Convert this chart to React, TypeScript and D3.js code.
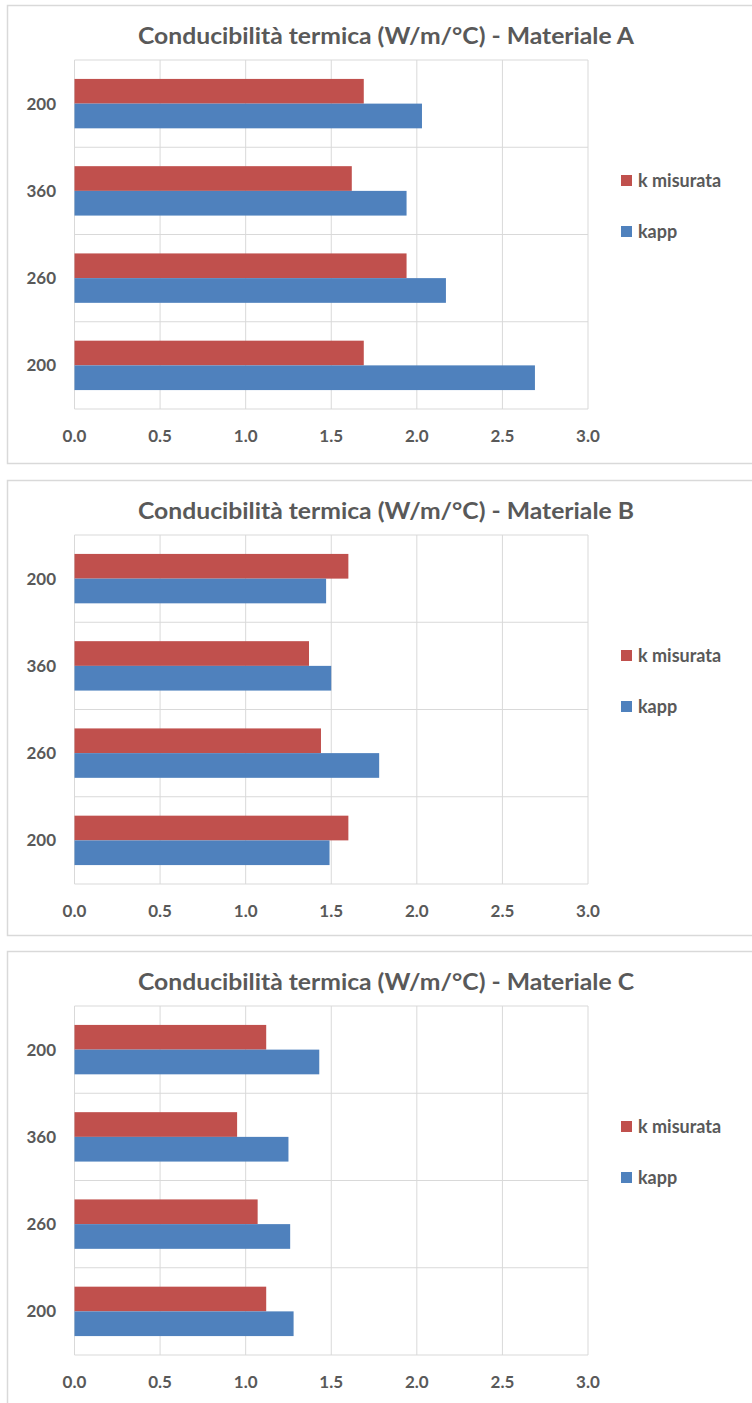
import * as d3 from 'd3'

// categorie dall'alto verso il basso
const categories = ['200', '360', '260', '200']
const seriesNames = ['k misurata', 'kapp']
const seriesColors = ['#c0504d', '#4f81bd']
const xTicks = [0, 0.5, 1, 1.5, 2, 2.5, 3]

const kMisurataA = [1.69, 1.62, 1.94, 1.69]
const kappA = [2.03, 1.94, 2.17, 2.69]
const kMisurataB = [1.60, 1.37, 1.44, 1.60]
const kappB = [1.47, 1.50, 1.78, 1.49]
const kMisurataC = [1.12, 0.95, 1.07, 1.12]
const kappC = [1.43, 1.25, 1.26, 1.28]

const panelTitles = [
  'Conducibilità termica (W/m/°C) - Materiale A',
  'Conducibilità termica (W/m/°C) - Materiale B',
  'Conducibilità termica (W/m/°C) - Materiale C',
]
const panelTops = [5, 480, 951]
const panelHeights = [458, 455, 470]

const font = 'Lato, "Open Sans", sans-serif'
const textColor = '#595959'
const gridColor = '#d9d9d9'

interface PanelProps {
  top: number
  height: number
  title: string
  values: number[][]
}

function Panel({ top, height, title, values }: PanelProps) {
  const plotLeft = 74.5
  const plotRight = 588
  const plotTop = 55
  const plotBottom = 404

  const x = d3.scaleLinear().domain([0, 3]).range([plotLeft, plotRight])
  const y0 = d3.scaleBand<number>()
    .domain(categories.map((_, i) => i))
    .range([plotTop, plotBottom])
  const y1 = d3.scaleBand<string>()
    .domain(seriesNames)
    .range([0, y0.bandwidth()])
    .paddingInner(0)
    .paddingOuter(0.766)

  return (
    <g transform={`translate(0, ${top})`}>
      <rect x={7.5} y={0.5} width={760} height={height} fill="#fff" stroke={gridColor} strokeWidth={1.5} />
      <text x={386} y={39} textAnchor="middle" fontFamily={font} fontWeight="bold" fontSize={22} fill={textColor}
        textLength={496} lengthAdjust="spacingAndGlyphs">
        {title}
      </text>

      {/* griglia verticale */}
      {xTicks.map(t => (
        <line key={`v${t}`} x1={x(t)} x2={x(t)} y1={plotTop} y2={plotBottom} stroke={gridColor} strokeWidth={1} />
      ))}
      {/* griglia orizzontale */}
      {[...categories.map((_, i) => y0(i)!), plotBottom].map((yy, i) => (
        <line key={`h${i}`} x1={plotLeft} x2={plotRight} y1={yy} y2={yy} stroke={gridColor} strokeWidth={1} />
      ))}

      {/* barre */}
      {categories.map((_, i) => (
        <g key={`c${i}`}>
          {seriesNames.map((s, j) => (
            <rect
              key={s}
              x={x(0)}
              y={y0(i)! + y1(s)!}
              width={x(values[j][i]) - x(0)}
              height={y1.bandwidth()}
              fill={seriesColors[j]}
            />
          ))}
        </g>
      ))}

      {/* etichette asse y */}
      {categories.map((c, i) => (
        <text key={`l${i}`} x={56} y={y0(i)! + y0.bandwidth() / 2} dy="0.35em" textAnchor="end"
          fontFamily={font} fontWeight="bold" fontSize={17} fill={textColor}>
          {c}
        </text>
      ))}

      {/* etichette asse x */}
      {xTicks.map(t => (
        <text key={`t${t}`} x={x(t)} y={431} dy="0.35em" textAnchor="middle"
          fontFamily={font} fontWeight="bold" fontSize={17} fill={textColor}>
          {d3.format('.1f')(t)}
        </text>
      ))}

      {/* legenda */}
      {seriesNames.map((s, j) => (
        <g key={`lg${s}`} transform={`translate(621, ${170 + j * 51})`}>
          <rect width={11} height={11} fill={seriesColors[j]} />
          <text x={17} y={5.5} dy="0.35em" fontFamily={font} fontWeight="bold" fontSize={18} fill={textColor}>
            {s}
          </text>
        </g>
      ))}
    </g>
  )
}

export default function App() {
  const data = [
    [kMisurataA, kappA],
    [kMisurataB, kappB],
    [kMisurataC, kappC],
  ]
  return (
    <svg width={752} height={1403} style={{ position: 'absolute', left: 0, top: 0, background: '#fff' }}>
      {panelTops.map((t, i) => (
        <Panel key={i} top={t} height={panelHeights[i]} title={panelTitles[i]} values={data[i]} />
      ))}
    </svg>
  )
}
